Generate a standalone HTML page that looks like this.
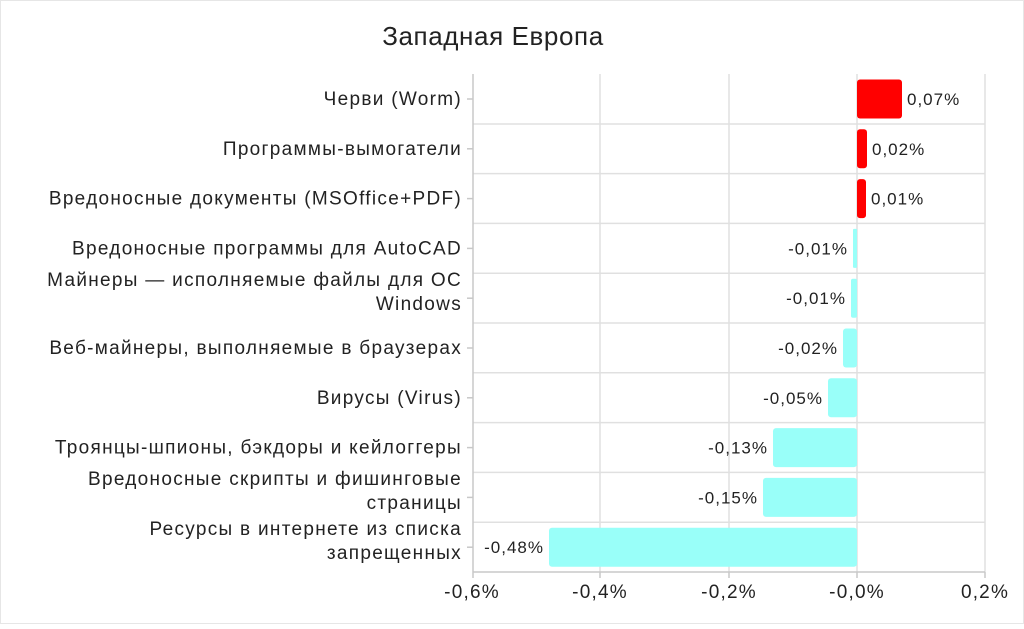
<!DOCTYPE html>
<html><head><meta charset="utf-8"><style>
body{margin:0;background:#fff;}
svg text{font-family:"Liberation Sans",sans-serif;fill:#222;}
</style></head><body>
<svg width="1024" height="624" xmlns="http://www.w3.org/2000/svg">
<rect x="0" y="0" width="1024" height="624" fill="#fff"/>
<rect x="0.5" y="0.5" width="1023" height="623" fill="none" stroke="#e6e6e6"/>
<text x="493" y="45" font-size="26" letter-spacing="0.6" text-anchor="middle">Западная Европа</text>
<g stroke="#e0e0e0" stroke-width="1.5">
<line x1="600" y1="74" x2="600" y2="572"/>
<line x1="729" y1="74" x2="729" y2="572"/>
<line x1="857" y1="74" x2="857" y2="572"/>
<line x1="985" y1="74" x2="985" y2="572"/>
<line x1="473" y1="124" x2="985" y2="124"/>
<line x1="473" y1="173.6" x2="985" y2="173.6"/>
<line x1="473" y1="223.4" x2="985" y2="223.4"/>
<line x1="473" y1="273.2" x2="985" y2="273.2"/>
<line x1="473" y1="323" x2="985" y2="323"/>
<line x1="473" y1="372.8" x2="985" y2="372.8"/>
<line x1="473" y1="422.6" x2="985" y2="422.6"/>
<line x1="473" y1="472.4" x2="985" y2="472.4"/>
<line x1="473" y1="522.2" x2="985" y2="522.2"/>
</g>
<g stroke="#c8c8c8" stroke-width="1.5">
<line x1="473" y1="74" x2="473" y2="572"/>
<line x1="473" y1="572" x2="985" y2="572"/>
<line x1="985" y1="572" x2="985" y2="578"/>
<line x1="857" y1="572" x2="857" y2="578"/>
<line x1="729" y1="572" x2="729" y2="578"/>
<line x1="600" y1="572" x2="600" y2="578"/>
<line x1="473" y1="572" x2="473" y2="578"/>
<line x1="467" y1="99" x2="473" y2="99"/>
<line x1="467" y1="148.8" x2="473" y2="148.8"/>
<line x1="467" y1="198.6" x2="473" y2="198.6"/>
<line x1="467" y1="248.4" x2="473" y2="248.4"/>
<line x1="467" y1="298.2" x2="473" y2="298.2"/>
<line x1="467" y1="348" x2="473" y2="348"/>
<line x1="467" y1="397.8" x2="473" y2="397.8"/>
<line x1="467" y1="447.6" x2="473" y2="447.6"/>
<line x1="467" y1="497.4" x2="473" y2="497.4"/>
<line x1="467" y1="547.2" x2="473" y2="547.2"/>
</g>
<g fill="#ff0000">
<rect x="857" y="79.5" width="45" height="39" rx="3"/>
<rect x="857" y="129.3" width="10" height="39" rx="3"/>
<rect x="857" y="179.1" width="9" height="39" rx="3"/>
</g>
<g fill="#99fff9">
<rect x="853" y="228.9" width="4" height="39" rx="1"/>
<rect x="851" y="278.7" width="6" height="39" rx="2"/>
<rect x="843" y="328.5" width="14" height="39" rx="3"/>
<rect x="828" y="378.3" width="29" height="39" rx="3"/>
<rect x="773" y="428.1" width="84" height="39" rx="3"/>
<rect x="763" y="477.9" width="94" height="39" rx="3"/>
<rect x="549" y="527.7" width="308" height="39" rx="3"/>
</g>
<g font-size="17" letter-spacing="1">
<text x="907" y="105">0,07%</text>
<text x="872" y="154.8">0,02%</text>
<text x="871" y="204.6">0,01%</text>
<g text-anchor="end">
<text x="848" y="254.4">-0,01%</text>
<text x="846" y="304.2">-0,01%</text>
<text x="838" y="354">-0,02%</text>
<text x="823" y="403.8">-0,05%</text>
<text x="768" y="453.6">-0,13%</text>
<text x="758" y="503.4">-0,15%</text>
<text x="544" y="553.2">-0,48%</text>
</g></g>
<g font-size="19" letter-spacing="1.2" text-anchor="middle">
<text x="472" y="598">-0,6%</text>
<text x="600" y="598">-0,4%</text>
<text x="729" y="598">-0,2%</text>
<text x="857" y="598">-0,0%</text>
<text x="985" y="598">0,2%</text>
</g>
<g font-size="19" letter-spacing="1.3" text-anchor="end">
<text x="462" y="105">Черви (Worm)</text>
<text x="462" y="154.8">Программы-вымогатели</text>
<text x="462" y="204.6">Вредоносные документы (MSOffice+PDF)</text>
<text x="462" y="254.4">Вредоносные программы для AutoCAD</text>
<text x="462" y="286">Майнеры — исполняемые файлы для ОС</text>
<text x="462" y="310">Windows</text>
<text x="462" y="354">Веб-майнеры, выполняемые в браузерах</text>
<text x="462" y="403.8">Вирусы (Virus)</text>
<text x="462" y="453.6">Троянцы-шпионы, бэкдоры и кейлоггеры</text>
<text x="462" y="485">Вредоносные скрипты и фишинговые</text>
<text x="462" y="509">страницы</text>
<text x="462" y="535">Ресурсы в интернете из списка</text>
<text x="462" y="559">запрещенных</text>
</g>
</svg>
</body></html>
